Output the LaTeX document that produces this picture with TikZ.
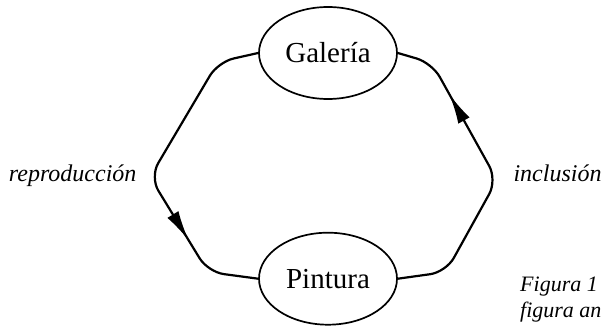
\documentclass[tikz,border=0pt]{standalone}
\usepackage{fontspec}
\setmainfont{Liberation Serif}
\usepackage{tikz}
\usetikzlibrary{positioning,shapes.geometric,arrows.meta,decorations.markings}

\begin{document}
\begin{tikzpicture}[x=1pt, y=1pt, node distance=132pt,
    every node/.style={font=\fontsize{24}{28}\selectfont\itshape},
    place/.style={draw, ellipse, line width=1.7pt, minimum width=138pt,
      minimum height=92pt, font=\fontsize{29}{33}\selectfont},
    link/.style={line width=2.2pt, rounded corners=16pt, postaction={decorate}},
    head/.style={decoration={markings,
      mark=at position #1 with {\arrow{Latex[length=30pt,width=13pt]}}}}]
  \useasboundingbox (0,0) rectangle (604,326);
  \node[place] (galeria) at (328,273) {Galería};
  \node[place, below=of galeria] (pintura) {Pintura};
  % corners of the two arcs
  \coordinate (lu) at (218,264);
  \coordinate (lm) at (150,149);
  \coordinate (ld) at (208,54);
  \coordinate (ru) at (432,263);
  \coordinate (rm) at (497,146);
  \coordinate (rd) at (446,54);
  \draw[link, head=0.74] (galeria.west) -- (lu) -- (lm) -- (ld) -- (pintura.west);
  \draw[link, head=0.78] (pintura.east) -- (rd) -- (rm) -- (ru) -- (galeria.east);
  \node[anchor=base east] (repro) at (140,144) {reproducción};
  \node[anchor=base west] (incl) at (510,144) {inclusión};
  \node[anchor=base west, inner sep=1pt, font=\fontsize{22}{26}\selectfont\itshape]
      (fig) at (519,34) {Figura 1};
  \node[anchor=base west, inner sep=1pt, font=\fontsize{22}{26}\selectfont\itshape]
      (figb) at (519,9) {figura an};
\end{tikzpicture}
\end{document}
